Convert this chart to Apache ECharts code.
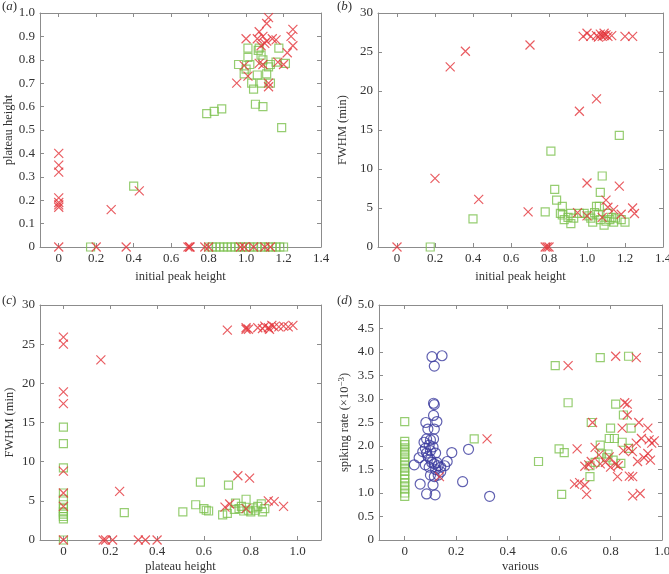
<!DOCTYPE html>
<html><head><meta charset="utf-8">
<script src="https://cdn.jsdelivr.net/npm/echarts@6/dist/echarts.min.js"></script>
<style>html,body{margin:0;padding:0;background:#fff}#c{width:669px;height:574px}</style>
</head><body><div id="c"></div><script>
// ---------- tick values ----------
const ticksPeak = [0,0.2,0.4,0.6,0.8,1.0,1.2,1.4];
const ticksPlateauY = [0,0.1,0.2,0.3,0.4,0.5,0.6,0.7,0.8,0.9,1.0];
const ticksFwhm = [0,5,10,15,20,25,30];
const ticksUnit = [0,0.2,0.4,0.6,0.8,1.0];
const ticksRate = [0,0.5,1.0,1.5,2.0,2.5,3.0,3.5,4.0,4.5,5.0];

// ---------- panel (a): initial peak height vs plateau height ----------
const aCross = [[0,0.40],[0,0.35],[0,0.32],[0,0.21],[0,0.19],[0,0.18],[0,0.17],[0,0],
 [0.20,0],[0.28,0.16],[0.36,0],[0.43,0.24],[0.69,0],[0.70,0],[0.70,0],[0.78,0],[0.80,0],
 [0.97,0],[0.99,0],[1.04,0],[1.10,0],[1.13,0],
 [1.12,0.98],[1.11,0.955],[1.25,0.93],[1.24,0.90],[1.00,0.89],[1.07,0.92],[1.09,0.90],[1.06,0.89],
 [1.11,0.88],[1.14,0.89],[1.16,0.885],[1.08,0.86],[1.10,0.87],[1.25,0.86],[1.22,0.83],[1.17,0.79],
 [1.20,0.78],[1.07,0.785],[1.09,0.78],[0.99,0.775],[1.01,0.73],[0.95,0.70],[1.12,0.70],[1.12,0.685]];
const aSquare = [[0.17,0],[0.40,0.26],[0.79,0.57],[0.83,0.58],[0.87,0.59],[1.05,0.61],[1.09,0.60],[1.19,0.51],
 [1.01,0.85],[1.07,0.85],[1.175,0.85],[1.01,0.81],[1.08,0.82],[1.065,0.84],[0.96,0.78],[1.00,0.76],
 [1.02,0.78],[1.13,0.78],[1.16,0.79],[1.21,0.785],[0.99,0.74],[1.06,0.735],[1.11,0.74],[1.03,0.70],
 [1.08,0.70],[1.04,0.675],[1.13,0.70],[1.09,0.80],[1.12,0.77],
 [0.80,0],[0.82,0],[0.84,0],[0.86,0],[0.88,0],[0.90,0],[0.92,0],[0.94,0],[0.96,0],[0.98,0],[1.00,0],
 [1.02,0],[1.04,0],[1.06,0],[1.08,0],[1.10,0],[1.12,0],[1.14,0],[1.16,0],[1.18,0],[1.20,0]];

// ---------- panel (b): initial peak height vs FWHM ----------
const bCross = [[0,0],[0.20,8.8],[0.28,23.1],[0.36,25.1],[0.43,6.1],[0.69,4.5],[0.70,25.9],[0.78,0],[0.79,0],[0.80,0],
 [0.96,17.4],[1.05,19.0],[1.00,8.2],[1.17,7.8],[1.10,6.0],[0.95,4.4],[1.00,4.0],[1.14,4.8],[1.24,5.0],
 [1.25,4.3],[1.11,5.1],[1.08,3.8],[1.18,4.2],
 [0.98,27.0],[1.00,27.4],[1.02,27.0],[1.05,27.1],[1.07,27.3],[1.08,27.0],[1.09,27.4],[1.10,27.2],
 [1.11,27.0],[1.13,27.1],[1.20,27.0],[1.24,27.0],[1.06,26.9],[1.09,27.1]];
const bSquare = [[0.175,0],[0.40,3.6],[0.78,4.5],[0.81,12.3],[0.83,7.4],[0.84,6.0],[0.87,5.2],[1.08,9.1],
 [1.07,7.0],[1.17,14.3],[0.87,4.1],[0.88,3.5],[0.915,4.3],[0.915,3.0],[0.93,3.7],[0.96,4.3],[0.985,4.3],
 [1.01,4.0],[1.02,3.7],[1.03,3.2],[1.05,5.2],[1.06,4.1],[1.07,3.5],[1.09,2.8],[1.11,4.3],[1.12,3.5],
 [1.14,3.2],[1.15,3.7],[1.18,3.5],[1.20,3.2],[1.065,5.2],[0.86,4.3],[0.90,3.8],[1.04,4.4],[1.10,3.3],[1.13,3.8]];

// ---------- panel (c): plateau height vs FWHM ----------
const cCross = [[0,25.9],[0,25.0],[0,18.9],[0,17.4],[0,8.8],[0,6.0],[0,4.3],[0,0],
 [0.16,23.0],[0.24,6.2],[0.17,0],[0.18,0],[0.21,0],[0.32,0],[0.35,0],[0.40,0],
 [0.70,26.8],[0.78,26.9],[0.78,27.1],[0.79,26.9],[0.83,27.1],[0.85,27.0],[0.86,27.3],[0.875,27.1],
 [0.89,27.4],[0.90,27.2],[0.92,27.2],[0.94,27.3],[0.96,27.2],[0.98,27.4],[0.88,26.9],
 [0.745,8.2],[0.795,7.9],[0.69,4.2],[0.71,4.6],[0.875,5.0],[0.90,4.9],[0.94,4.3],[0.78,4.0]];
const cSquare = [[0,14.4],[0,12.3],[0,9.2],[0,6.0],[0,5.2],[0,4.5],[0,4.0],[0,3.6],[0,3.3],[0,3.0],[0,2.7],[0,0],
 [0.26,3.5],[0.51,3.6],[0.565,4.5],[0.585,7.4],[0.60,4.0],[0.61,3.8],[0.62,3.7],[0.68,3.2],[0.70,3.4],
 [0.705,7.0],[0.735,4.7],[0.75,4.0],[0.76,4.3],[0.78,5.2],[0.79,3.8],[0.80,3.6],[0.81,4.1],[0.82,3.8],
 [0.83,4.3],[0.845,4.6],[0.85,3.6],[0.86,4.0],[0.77,3.7],[0.73,3.9]];

// ---------- panel (d): various vs spiking rate ----------
const dCircle = [[0.106,3.90],[0.145,3.92],[0.115,3.70],[0.112,2.91],[0.115,2.88],[0.112,2.65],[0.082,2.50],
 [0.125,2.52],[0.09,2.36],[0.115,2.36],[0.085,2.15],[0.10,2.13],[0.112,2.15],[0.095,2.02],[0.075,2.08],
 [0.08,1.95],[0.10,1.90],[0.11,1.98],[0.07,1.88],[0.085,1.85],[0.12,1.85],[0.09,1.78],[0.10,1.72],
 [0.105,1.65],[0.037,1.60],[0.056,1.75],[0.08,1.60],[0.095,1.55],[0.115,1.62],[0.13,1.58],[0.14,1.55],
 [0.155,1.58],[0.165,1.67],[0.183,1.86],[0.248,1.93],[0.12,1.50],[0.10,1.38],[0.115,1.35],[0.13,1.38],
 [0.14,1.45],[0.125,1.65],[0.06,1.19],[0.225,1.24],[0.085,0.98],[0.118,0.96],[0.11,1.17],[0.33,0.93]];
const dSquare = [[0,2.52],[0,2.10],[0,2.03],[0,1.96],[0,1.89],[0,1.82],[0,1.75],[0,1.68],[0,1.60],[0,1.53],
 [0,1.46],[0,1.38],[0,1.30],[0,1.22],[0,1.15],[0,1.08],[0,1.00],[0,0.93],
 [0.27,2.15],[0.52,1.67],[0.585,3.71],[0.60,1.94],[0.62,1.86],[0.61,0.97],[0.635,2.92],[0.725,2.50],
 [0.72,1.35],[0.72,1.58],[0.76,3.88],[0.87,3.91],[0.82,2.89],[0.85,2.66],[0.80,2.38],[0.88,2.38],
 [0.795,2.16],[0.815,2.16],[0.76,2.02],[0.845,2.08],[0.765,1.83],[0.79,1.83],[0.81,1.70],[0.84,1.63],
 [0.74,1.65],[0.785,1.75],[0.87,1.95]];
const dCross = [[0.32,2.15],[0.135,1.35],[0.635,3.71],[0.82,3.91],[0.90,3.88],[0.855,2.92],[0.865,2.89],
 [0.865,2.66],[0.73,2.50],[0.91,2.50],[0.945,2.38],[0.845,2.38],[0.92,2.16],[0.95,2.13],[0.97,2.11],
 [0.96,2.06],[0.90,2.06],[0.67,1.94],[0.74,1.97],[0.87,1.95],[0.885,1.88],[0.945,1.84],[0.795,1.77],
 [0.755,1.81],[0.725,1.67],[0.715,1.60],[0.70,1.57],[0.82,1.61],[0.905,1.67],[0.955,1.70],[0.78,1.65],
 [0.80,1.55],[0.83,1.58],[0.827,1.35],[0.873,1.36],[0.886,1.35],[0.66,1.19],[0.68,1.22],[0.70,1.17],
 [0.707,0.97],[0.886,0.94],[0.915,0.99],[0.93,1.75],[0.76,1.62],[0.85,1.90]];

// ---------- styling ----------
const FONT = 'Liberation Serif';
const AX = '#8c8c8c', TXT = '#333333';
const RED = '#e3343b', GREEN = '#7cc14e', BLUE = '#3a3a9e';
const CROSS = 'path://M0,0L10,10M10,0L0,10';
const fmt1 = v => v === 0 ? '0' : v.toFixed(1);
const fmt0 = v => String(v);

const grids = [
  {left:40, top:13, width:281, height:234},
  {left:378, top:13, width:285, height:234},
  {left:40, top:305, width:281, height:235},
  {left:379, top:305, width:283, height:235}
];
grids.forEach(g => { g.containLabel = false; g.outerBoundsMode = 'none'; });

const xAxis = [], yAxis = [];
function addX(gi, min, max, ticks, name, fmt, gap) {
  const line = {show:true, onZero:false, lineStyle:{color:AX, width:1}};
  const tick = {show:true, inside:true, length:4, customValues:ticks, lineStyle:{color:AX}};
  xAxis.push({type:'value', gridIndex:gi, position:'bottom', min, max, name,
    nameLocation:'middle', nameGap:gap,
    nameTextStyle:{fontFamily:FONT, fontSize:12.5, color:TXT},
    axisLine:line, axisTick:tick,
    axisLabel:{customValues:ticks, formatter:fmt, fontFamily:FONT, fontSize:13, color:TXT, margin:5, showMinLabel:true, showMaxLabel:true},
    splitLine:{show:false}});
  xAxis.push({type:'value', gridIndex:gi, position:'top', min, max,
    axisLine:line, axisTick:tick, axisLabel:{show:false}, splitLine:{show:false}});
}
function addY(gi, min, max, ticks, name, fmt, gap) {
  const line = {show:true, onZero:false, lineStyle:{color:AX, width:1}};
  const tick = {show:true, inside:true, length:4, customValues:ticks, lineStyle:{color:AX}};
  yAxis.push({type:'value', gridIndex:gi, position:'left', min, max, name,
    nameLocation:'middle', nameGap:gap,
    nameTextStyle:{fontFamily:FONT, fontSize:12.5, color:TXT, rich:{sup:{fontFamily:FONT, fontSize:9, color:TXT, verticalAlign:'top', padding:[0,0,6,0]}}},
    axisLine:line, axisTick:tick,
    axisLabel:{customValues:ticks, formatter:fmt, fontFamily:FONT, fontSize:13, color:TXT, margin:5},
    splitLine:{show:false}});
  yAxis.push({type:'value', gridIndex:gi, position:'right', min, max,
    axisLine:line, axisTick:tick, axisLabel:{show:false}, splitLine:{show:false}});
}
addX(0, -0.1, 1.4, ticksPeak, 'initial peak height', fmt1, 23);
addY(0, 0, 1.0, ticksPlateauY, 'plateau height', fmt1, 22);
addX(1, -0.1, 1.4, ticksPeak, 'initial peak height', fmt1, 23);
addY(1, 0, 30, ticksFwhm, 'FWHM (min)', fmt0, 29);
addX(2, -0.1, 1.1, ticksUnit, 'plateau height', fmt1, 20);
addY(2, 0, 30, ticksFwhm, 'FWHM (min)', fmt0, 24);
addX(3, -0.1, 1.0, ticksUnit, 'various', fmt1, 20);
addY(3, 0, 5.0, ticksRate, 'spiking rate (×10{sup|−3})', fmt1, 27);

function sq(gi, data) {
  return {type:'scatter', xAxisIndex:2*gi, yAxisIndex:2*gi, data, symbol:'rect', symbolSize:8,
    itemStyle:{color:'rgba(0,0,0,0)', borderColor:GREEN, borderWidth:1.2}, silent:true, z:2};
}
function cr(gi, data) {
  return {type:'scatter', xAxisIndex:2*gi, yAxisIndex:2*gi, data, symbol:CROSS, symbolSize:9,
    itemStyle:{color:'rgba(0,0,0,0)', borderColor:RED, borderWidth:1.2}, silent:true, z:4};
}
function ci(gi, data) {
  return {type:'scatter', xAxisIndex:2*gi, yAxisIndex:2*gi, data, symbol:'circle', symbolSize:10,
    itemStyle:{color:'rgba(0,0,0,0)', borderColor:BLUE, borderWidth:1.2}, silent:true, z:3};
}

const labelStyle = (txt) => ({
  text: '(' + '{i|' + txt + '})',
  font: '13px "Liberation Serif"', fill: TXT,
  rich: {i: {fontStyle:'italic', fontFamily:FONT, fontSize:13, fill:TXT}}
});

const chart = echarts.init(document.getElementById('c'), null, {renderer:'canvas'});
chart.setOption({
  animation:false,
  backgroundColor:'#ffffff',
  grid: grids,
  xAxis, yAxis,
  series: [sq(0,aSquare), cr(0,aCross), sq(1,bSquare), cr(1,bCross), sq(2,cSquare), cr(2,cCross),
           sq(3,dSquare), ci(3,dCircle), cr(3,dCross)],
  graphic: [
    {type:'text', left:2, top:0, style:labelStyle('a')},
    {type:'text', left:337, top:0, style:labelStyle('b')},
    {type:'text', left:2, top:294, style:labelStyle('c')},
    {type:'text', left:337, top:294, style:labelStyle('d')}
  ]
});
</script></body></html>
